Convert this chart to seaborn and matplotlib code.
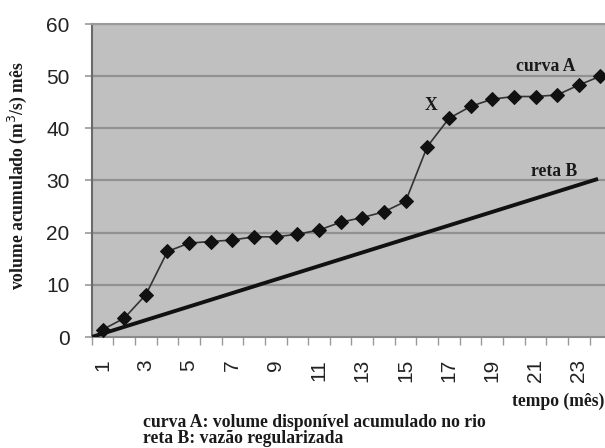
import matplotlib
matplotlib.use("Agg")
import matplotlib.pyplot as plt
import seaborn as sns
import pandas as pd
import numpy as np

# ---- data ----
months = list(range(1, 25))
curve_a = [1.4, 3.6, 8.1, 16.4, 18.0, 18.3, 18.6, 19.2, 19.2, 19.7, 20.5, 22.0,
           22.9, 24.0, 26.0, 36.5, 41.9, 44.2, 45.6, 46.1, 46.1, 46.4, 48.3, 50.0]
line_b_x = [0.5, 23.8]
line_b_y = [0.0, 30.2]
tick_labels = [str(m) for m in range(1, 25, 2)]
y_ticks = [0, 10, 20, 30, 40, 50, 60]

W, H = 605, 448
fig = plt.figure(figsize=(W / 100, H / 100), dpi=100)
fig.patch.set_facecolor("white")

left_px, right_px, top_px, bot_px = 91.7, 611.3, 24, 337
ax = fig.add_axes([left_px / W, 1 - bot_px / H, (right_px - left_px) / W, (bot_px - top_px) / H])
ax.set_facecolor("#c0c0c0")

df_a = pd.DataFrame({"mes": months, "vol": curve_a})
df_b = pd.DataFrame({"mes": line_b_x, "vol": line_b_y})

for yv in y_ticks[1:]:
    ax.axhline(yv, color="#919191", lw=1.6, zorder=1)

sns.lineplot(data=df_b, x="mes", y="vol", ax=ax, color="#111111", lw=2.8, zorder=3)
sns.lineplot(data=df_a, x="mes", y="vol", ax=ax, color="#333333", lw=1.2,
             marker="D", markersize=7, markerfacecolor="#111111",
             markeredgecolor="#111111", zorder=4)

ax.set_xlim(0.5, 24.5)
ax.set_ylim(0, 60)
ax.set_xticks(list(range(1, 25, 2)))
ax.set_xticklabels(tick_labels, rotation=90, fontsize=15, family="Liberation Sans", color="#222222")
ax.set_xticks(np.arange(0.5, 25, 1), minor=True)
ax.tick_params(axis="x", which="major", length=0, pad=16)
ax.tick_params(axis="x", which="minor", length=6, color="#999999", width=1)
ax.set_yticks(y_ticks)
ax.set_yticklabels([str(v) for v in y_ticks], fontsize=15, family="Liberation Sans", color="#222222")
ax.tick_params(axis="y", length=5, color="#999999", width=1.2, pad=11)
ax.set_xlabel("")
ax.set_ylabel("")

ax.spines["right"].set_visible(False)
ax.spines["top"].set_color("#9a9a9a")
ax.spines["top"].set_linewidth(1.5)
ax.spines["bottom"].set_color("#8a8a8a")
ax.spines["bottom"].set_linewidth(1.5)
ax.spines["left"].set_color("#6a6a6a")
ax.spines["left"].set_linewidth(1.5)

serif = dict(family="Liberation Serif", fontweight="bold", fontsize=12.7, color="#1a1a1a")

def px(x, y):
    return x / W, 1 - y / H

fig.text(*px(545.8, 66.7), "curva A", ha="center", va="center", **serif)
fig.text(*px(430.7, 105), "X", ha="center", va="center", **serif)
fig.text(*px(554, 171.7), "reta B", ha="center", va="center", **serif)
fig.text(*px(604, 401.7), "tempo (mês)", ha="right", va="center", **serif)
fig.text(*px(143, 422.5), "curva A: volume disponível acumulado no rio", ha="left", va="center", **serif)
fig.text(*px(143, 438.5), "reta B: vazão regularizada", ha="left", va="center", **serif)
fig.text(*px(17, 176), "volume acumulado (m$^3$/s) mês", ha="center", va="center",
         rotation=90, **serif)

fig.savefig("out.png", dpi=100)
